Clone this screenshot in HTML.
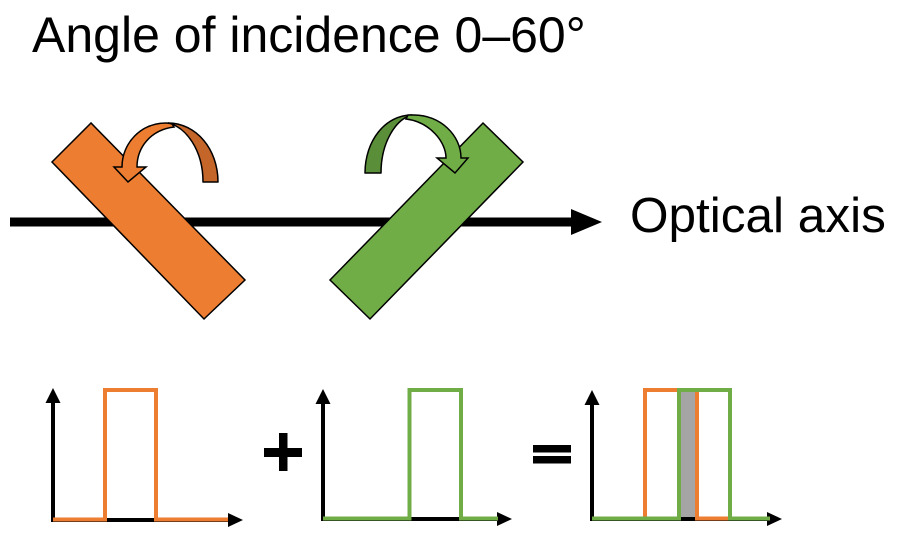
<!DOCTYPE html>
<html>
<head>
<meta charset="utf-8">
<style>
  html, body { margin: 0; padding: 0; background: #ffffff; }
  body { width: 905px; height: 536px; overflow: hidden; }
  svg { display: block; }
  text { font-family: "Liberation Sans", Arial, sans-serif; fill: #000; }
</style>
</head>
<body>
<svg width="905" height="536" viewBox="0 0 905 536" xmlns="http://www.w3.org/2000/svg">
  <!-- Title -->
  <text x="32" y="52" font-size="50">Angle of incidence 0–60°</text>

  <!-- Optical axis line -->
  <line x1="10" y1="222" x2="576" y2="222" stroke="#000" stroke-width="9"/>
  <polygon points="571,209 602,222 571,235" fill="#000"/>
  <text x="630" y="232" font-size="49.5">Optical axis</text>

  <!-- Orange tilted plate -->
  <polygon points="91,123 52,162 204,319 245,280" fill="#ED7D31" stroke="#000" stroke-width="1.5" stroke-linejoin="miter"/>
  <!-- Green tilted plate -->
  <polygon points="483,123 523,162 370,319 330,280" fill="#70AD47" stroke="#000" stroke-width="1.5" stroke-linejoin="miter"/>

  <!-- Orange curved arrow: back (dark) part -->
  <path d="M218,182 C218,149 196,123 168,123 C186,127 203,150 203,182 Z" fill="#C4652A" stroke="#000" stroke-width="1.5" stroke-linejoin="round"/>
  <!-- Orange curved arrow: front part with head -->
  <path d="M172,124 C168,123 168,123 166,123 C141,123 122,143 122,167 L114,167 L128,182 L146,167 L137,167 C137,148 150,130 174,127 Z" fill="#ED7D31" stroke="#000" stroke-width="1.5" stroke-linejoin="miter"/>

  <!-- Green curved arrow: back (dark) part -->
  <path d="M365,173 C365,141 385,115 412,115 C396,119 381,142 381,173 Z" fill="#5A8E38" stroke="#000" stroke-width="1.5" stroke-linejoin="round"/>
  <!-- Green curved arrow: front part with head -->
  <path d="M408,115 C410,115 412,115 414,115 C440,115 461,135 461,158 L468,158 L455,173 L437,158 L446,158 C446,142 430,122 406,119 Z" fill="#70AD47" stroke="#000" stroke-width="1.5" stroke-linejoin="miter"/>

  <!-- Chart 1 -->
  <line x1="53" y1="522" x2="53" y2="400" stroke="#000" stroke-width="4"/>
  <polygon points="45.5,403 53,388 60.5,403" fill="#000"/>
  <line x1="51" y1="520" x2="231" y2="520" stroke="#000" stroke-width="4"/>
  <polygon points="228,513 243,520 228,527" fill="#000"/>
  <path d="M53,519.5 H105 V390 H156 V519.5 H228" fill="none" stroke="#ED7D31" stroke-width="4" stroke-linejoin="miter"/>

  <!-- Plus -->
  <rect x="264" y="448" width="38" height="9" fill="#000"/>
  <rect x="279" y="433" width="8.5" height="38" fill="#000"/>

  <!-- Chart 2 -->
  <line x1="323" y1="521" x2="323" y2="400" stroke="#000" stroke-width="4"/>
  <polygon points="315.5,404 323,389 330.5,404" fill="#000"/>
  <line x1="321" y1="519" x2="500" y2="519" stroke="#000" stroke-width="4"/>
  <polygon points="497,512 512,519 497,526" fill="#000"/>
  <path d="M323,518.5 H409.5 V390 H461 V518.5 H498" fill="none" stroke="#70AD47" stroke-width="4" stroke-linejoin="miter"/>

  <!-- Equals -->
  <rect x="533" y="445" width="38" height="7.5" fill="#000"/>
  <rect x="533" y="456" width="38" height="7.5" fill="#000"/>

  <!-- Chart 3 -->
  <line x1="592" y1="521" x2="592" y2="402" stroke="#000" stroke-width="4"/>
  <polygon points="584.5,405 592,390 599.5,405" fill="#000"/>
  <line x1="590" y1="519" x2="770" y2="519" stroke="#000" stroke-width="4"/>
  <polygon points="767,512 782,519 767,526" fill="#000"/>
  <rect x="681" y="391" width="14" height="126" fill="#A5A5A5"/>
  <path d="M592,518.5 H645 V390 H697 V518.5 H770" fill="none" stroke="#ED7D31" stroke-width="4" stroke-linejoin="miter"/>
  <path d="M592,518.5 H679 V390 H730 V518.5 H770" fill="none" stroke="#70AD47" stroke-width="4" stroke-linejoin="miter"/>
</svg>
</body>
</html>
